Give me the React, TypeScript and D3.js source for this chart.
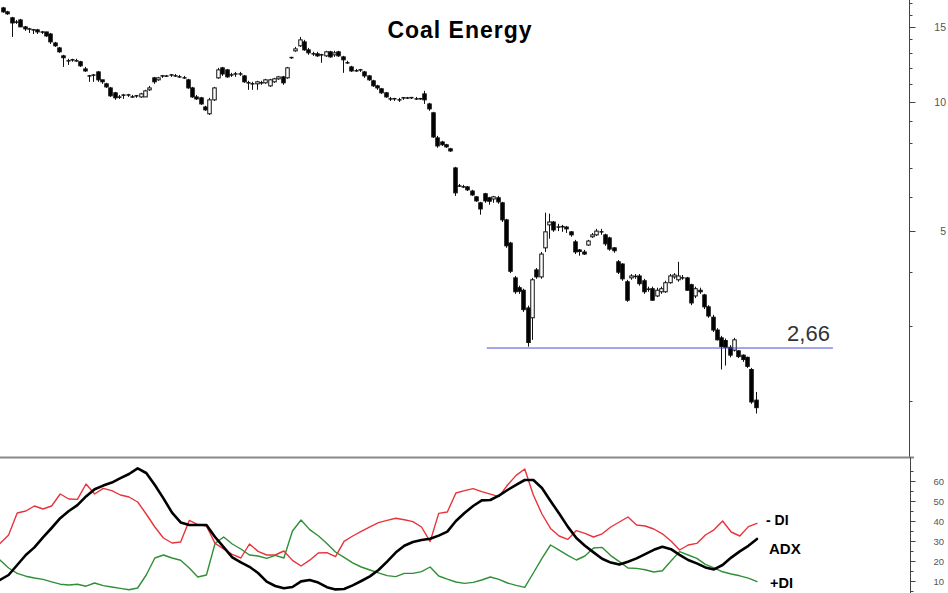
import React from "react";
import * as d3 from "d3";

// ---- price data ----
const opens = [
  16.58, 16.23, 15.72, 15.38, 15.54, 14.97, 14.81, 14.81, 14.73, 14.57,
  14.57, 14.41, 13.73, 13.37, 12.81, 12.54, 12.47, 12.54, 12.41, 11.94,
  11.56, 11.56, 11.75, 11.26, 11.02, 10.78, 10.5, 10.27, 10.38, 10.33,
  10.33, 10.27, 10.27, 10.27, 10.67, 11.38, 11.26, 11.44, 11.5, 11.5,
  11.56, 11.5, 11.44, 11.26, 10.78, 10.27, 10.22, 9.73, 9.38, 10.11,
  11.38, 12.01, 11.88, 11.62, 11.56, 11.69, 11.5, 11.14, 11.08, 11.02,
  11.02, 11.08, 10.9, 11.14, 11.32, 11.44, 11.38, 12.68, 13.16, 13.52,
  13.81, 13.23, 13.02, 12.95, 12.81, 12.81, 13.09, 12.88, 13.09, 12.74,
  12.41, 12.07, 11.88, 11.81, 11.75, 11.5, 11.2, 10.9, 10.73, 10.5,
  10.22, 10.16, 10.16, 10.16, 10.22, 10.22, 10.22, 10.16, 10.44, 9.89,
  9.43, 8.24, 8.06, 7.94, 7.77, 7.01, 6.4, 6.36, 6.33, 6.19,
  6.0, 5.81, 6.1, 5.97, 5.93, 5.97, 5.81, 5.3, 4.68, 3.88,
  3.68, 3.63, 3.3, 3.13, 4.05, 3.9, 4.56, 5.16, 5.24, 5.08,
  5.08, 5.1, 4.97, 4.71, 4.51, 4.46, 4.63, 4.84, 4.89, 4.94,
  4.89, 4.81, 4.56, 4.23, 4.18, 3.8, 3.88, 3.9, 3.92, 3.82,
  3.66, 3.66, 3.52, 3.6, 3.6, 3.78, 3.9, 3.84, 3.9, 3.88,
  3.74, 3.52, 3.63, 3.54, 3.32, 3.14, 2.93, 2.81, 2.77, 2.67,
  2.63, 2.62, 2.56, 2.53, 2.37, 2.01,
];
const highs = [
  16.67, 16.32, 15.8, 15.54, 15.63, 15.05, 14.89, 14.81, 14.81, 14.65,
  14.57, 14.49, 13.81, 13.44, 12.88, 12.61, 12.61, 12.61, 12.47, 12.07,
  11.56, 11.62, 11.81, 11.26, 11.08, 10.84, 10.55, 10.38, 10.44, 10.44,
  10.38, 10.38, 10.5, 10.67, 10.9, 11.44, 11.44, 11.56, 11.56, 11.62,
  11.62, 11.56, 11.5, 11.32, 10.84, 10.38, 10.27, 9.79, 10.22, 10.84,
  12.01, 12.07, 11.94, 11.69, 11.75, 11.75, 11.56, 11.2, 11.14, 11.2,
  11.2, 11.32, 11.32, 11.38, 11.5, 11.5, 12.07, 12.74, 13.44, 14.18,
  13.96, 13.37, 13.09, 13.09, 12.95, 13.16, 13.16, 13.16, 13.16, 12.81,
  12.47, 12.14, 11.94, 11.94, 11.81, 11.56, 11.26, 10.96, 10.78, 10.55,
  10.27, 10.22, 10.22, 10.27, 10.27, 10.27, 10.27, 10.22, 10.61, 9.95,
  9.48, 8.33, 8.11, 7.98, 7.81, 7.05, 6.43, 6.4, 6.36, 6.23,
  6.03, 5.84, 6.13, 6.0, 6.03, 6.03, 5.84, 5.33, 4.71, 3.92,
  3.72, 3.66, 3.34, 3.88, 4.09, 4.46, 5.51, 5.48, 5.27, 5.19,
  5.16, 5.13, 4.99, 4.76, 4.53, 4.51, 4.76, 4.94, 5.05, 5.05,
  4.92, 4.84, 4.58, 4.27, 4.2, 3.84, 3.96, 3.96, 3.96, 3.86,
  3.7, 3.7, 3.68, 3.7, 3.82, 3.96, 3.98, 4.23, 3.94, 3.9,
  3.76, 3.7, 3.68, 3.56, 3.35, 3.18, 2.96, 2.84, 2.8, 2.7,
  2.81, 2.63, 2.57, 2.54, 2.39, 2.1,
];
const lows = [
  16.15, 15.97, 14.18, 15.21, 14.97, 14.65, 14.49, 14.41, 14.41, 14.41,
  14.18, 13.66, 13.44, 13.02, 12.07, 12.2, 12.41, 12.41, 12.07, 11.75,
  11.14, 11.14, 11.14, 11.02, 10.78, 10.27, 10.11, 10.16, 10.16, 10.27,
  10.22, 10.22, 10.22, 10.27, 10.61, 11.02, 11.2, 11.38, 11.44, 11.44,
  11.44, 11.38, 11.32, 10.73, 10.22, 10.11, 9.84, 9.53, 9.32, 10.05,
  11.32, 11.5, 11.38, 11.44, 11.44, 11.5, 11.08, 10.67, 10.67, 10.67,
  10.96, 11.02, 10.84, 11.08, 11.26, 10.96, 11.32, 12.61, 13.09, 13.44,
  13.16, 12.88, 12.81, 12.74, 12.34, 12.74, 12.68, 12.74, 12.74, 11.69,
  12.27, 11.75, 11.75, 11.75, 11.38, 11.2, 10.84, 10.67, 10.44, 10.22,
  10.05, 10.05, 10.0, 10.11, 10.16, 10.16, 10.11, 10.11, 9.89, 9.53,
  8.24, 7.81, 7.89, 7.81, 7.64, 6.03, 6.33, 6.29, 6.19, 6.03,
  5.84, 5.45, 5.81, 5.75, 5.81, 5.78, 5.24, 4.56, 3.98, 3.56,
  3.56, 3.23, 2.68, 2.78, 3.86, 3.86, 4.46, 4.79, 4.97, 4.99,
  4.97, 4.94, 4.84, 4.41, 4.37, 4.39, 4.61, 4.81, 4.86, 4.89,
  4.61, 4.49, 4.44, 3.96, 3.82, 3.41, 3.84, 3.86, 3.72, 3.56,
  3.6, 3.43, 3.5, 3.56, 3.58, 3.76, 3.86, 3.8, 3.84, 3.62,
  3.35, 3.48, 3.56, 3.28, 3.13, 2.9, 2.77, 2.37, 2.42, 2.53,
  2.61, 2.52, 2.47, 2.39, 1.97, 1.87,
];
const closes = [
  16.23, 16.06, 15.29, 15.36, 14.97, 14.81, 14.8, 14.73, 14.57, 14.56,
  14.26, 13.81, 13.52, 13.09, 12.68, 12.47, 12.54, 12.47, 12.14, 11.81,
  11.5, 11.55, 11.26, 11.14, 10.84, 10.33, 10.22, 10.26, 10.37, 10.38,
  10.27, 10.33, 10.44, 10.61, 10.78, 11.14, 11.38, 11.5, 11.49, 11.56,
  11.5, 11.44, 11.38, 10.78, 10.27, 10.16, 9.89, 9.58, 10.11, 10.78,
  11.88, 11.62, 11.44, 11.56, 11.62, 11.62, 11.14, 11.08, 11.02, 11.14,
  11.08, 11.26, 11.26, 11.32, 11.44, 11.08, 12.01, 12.69, 13.3, 13.96,
  13.23, 13.02, 12.95, 12.81, 12.88, 13.09, 12.74, 13.02, 12.81, 12.54,
  12.34, 11.81, 11.82, 11.88, 11.5, 11.26, 10.9, 10.78, 10.5, 10.27,
  10.16, 10.17, 10.11, 10.22, 10.21, 10.23, 10.16, 10.17, 10.11, 9.63,
  8.28, 7.89, 7.94, 7.85, 7.68, 6.13, 6.36, 6.33, 6.23, 6.06,
  5.87, 5.62, 5.87, 5.86, 6.0, 5.84, 5.3, 4.61, 4.02, 3.6,
  3.61, 3.27, 2.74, 3.84, 3.9, 4.41, 4.97, 5.24, 5.02, 5.1,
  5.11, 5.05, 4.89, 4.46, 4.47, 4.41, 4.73, 4.89, 4.99, 4.97,
  4.66, 4.53, 4.49, 4.0, 3.86, 3.44, 3.92, 3.91, 3.76, 3.6,
  3.65, 3.44, 3.63, 3.66, 3.78, 3.92, 3.94, 3.92, 3.88, 3.63,
  3.39, 3.66, 3.6, 3.32, 3.16, 2.93, 2.78, 2.68, 2.67, 2.56,
  2.78, 2.54, 2.5, 2.41, 1.99, 1.93,
];

// ---- DMI indicator (sampled every second bar) ----
const minusDI = [
  28.8, 33, 44, 45, 47.5, 46, 47.5, 53.5, 51, 50.8, 58.5, 53.5, 56.3, 55.2, 53, 52, 49.5, 43.5, 37, 31.5,
  29, 29.5, 40.3, 38.2, 37.5, 28.8, 26, 23.3, 21.5, 28.5, 24.8, 23, 23, 25, 20.3, 17.5, 20.4, 24, 24.2, 22.2,
  29.8, 32.5, 34.8, 37.1, 39.2, 40.3, 41.4, 40.6, 39.7, 37, 29.7, 43.8, 44.5, 54, 55.2, 56.2, 54.7, 53.4, 52.2, 58,
  62.8, 66, 53, 43.5, 36.3, 32.5, 30.8, 35.2, 33.8, 32, 33.6, 37, 39.5, 42, 38, 37.5, 36, 33.6, 30, 25.5,
  28, 28.8, 33, 35.6, 40, 34.5, 32.5, 37.2, 38.8,
];
const adx = [
  10.5, 13, 18, 23, 26.8, 31.8, 36.5, 41.4, 45, 47.9, 52.3, 55.9, 57.7, 59.2, 61.4, 63.5, 66.3, 64, 58, 51.3,
  44.2, 39.3, 38, 38, 38, 32, 26.9, 21.8, 19.3, 17.1, 14, 9.7, 7.5, 6.4, 7, 9.8, 10.5, 9.2, 6.9, 5.8,
  6, 7.8, 10, 12.3, 15.5, 19.7, 24.2, 27.6, 29.5, 30.5, 31.1, 32.7, 34.7, 40, 44, 47.5, 50.3, 50.5, 52.7, 55.5,
  58.1, 60.5, 60.5, 56.5, 50, 43.7, 37.2, 31.5, 27.6, 24.3, 21.1, 19.2, 18.2, 19.6, 21.3, 23.4, 25.6, 27.1, 25.9, 23.1,
  20.5, 18.8, 16.8, 15.8, 18, 21.7, 24.8, 27.6, 31,
];
const plusDI = [
  20.5, 16.5, 13.8, 12.4, 11.5, 10.8, 9.6, 8.4, 8, 8.4, 7.4, 9, 7.7, 7, 6.3, 5.6, 6.5, 13, 21.5, 23,
  21.5, 20.4, 16.5, 12, 13, 28.8, 32, 28.5, 26, 23, 22.5, 21.3, 22.8, 21.5, 35, 40.5, 35.7, 32.6, 28.8, 24.5,
  21.8, 19.1, 17, 15.5, 14.1, 12.7, 12.2, 13.8, 13.8, 14.7, 17, 12.5, 10.9, 9.5, 8.8, 9.3, 10.5, 12, 10.8, 9,
  7.8, 6.8, 14, 21.3, 28, 25.4, 22.8, 20.5, 22.5, 26.5, 26.8, 22.7, 19.7, 16.5, 16.3, 15.6, 14.5, 15.1, 20, 24.7,
  23, 21.3, 18.3, 16.6, 14.6, 13.5, 12.6, 11.4, 9.7,
];

const priceMajorTicks = [5, 10, 15];
const priceMinorTicks = [2, 3, 4, 6, 7, 8, 9, 11, 12, 13, 14, 16, 17];
const dmiMajorTicks = [10, 20, 30, 40, 50, 60];
const dmiMinorTicks = [5, 15, 25, 35, 45, 55, 65];
const supportLevel = 2.66;
const supportLabel = "2,66";
const supportFromBar = 112.5;
const supportToBar = 193;
const title = "Coal Energy";
const seriesLabels = ["- DI", "ADX", "+DI"];

const FONT = "'Liberation Sans', Arial, Helvetica, sans-serif";

export default function App() {
  const W = 948;
  const H = 593;
  const y = d3.scaleLog().domain([1.48, 17.3]).range([457, 0]);
  const x = d3.scaleLinear().domain([0, closes.length - 1]).range([3, 755.5]);
  const yi = d3.scaleLinear().domain([10, 60]).range([581, 481]);
  const xl = d3.scaleLinear().domain([0, adx.length - 1]).range([0, 757]);
  const mkLine = (arr: number[]) =>
    d3.line<number>().x((_, i) => xl(i)).y((v) => yi(v)).curve(d3.curveLinear)(arr) || "";

  const axisX = 909.5;
  const axisX2 = 910.5;

  return (
    <svg
      width={W}
      height={H}
      viewBox={`0 0 ${W} ${H}`}
      style={{ position: "absolute", left: 0, top: 0, background: "#fff" }}
    >
      <rect x={0} y={0} width={W} height={H} fill="#fff" />
      <defs>
        <clipPath id="lowerClip">
          <rect x={0} y={459} width={905} height={H - 459} />
        </clipPath>
      </defs>

      {/* candles */}
      <g>
        {closes.map((c, i) => {
          const o = opens[i];
          const cx = Math.round(x(i)) + 0.5;
          const yo = y(o);
          const yc = y(c);
          const top = Math.min(yo, yc);
          const bot = Math.max(yo, yc);
          const up = c >= o;
          return (
            <g key={i}>
              <line x1={cx} x2={cx} y1={y(highs[i])} y2={y(lows[i])} stroke="#111" strokeWidth={1} />
              {bot - top < 1.5 ? (
                <line x1={cx - 2} x2={cx + 2} y1={yc} y2={yc} stroke="#111" strokeWidth={1.5} />
              ) : (
                <rect
                  x={cx - 1.75}
                  y={top}
                  width={3.5}
                  height={bot - top}
                  fill={up ? "#fff" : "#000"}
                  stroke="#111"
                  strokeWidth={1}
                />
              )}
            </g>
          );
        })}
      </g>

      {/* support line */}
      <line
        x1={x(supportFromBar)}
        x2={x(supportToBar)}
        y1={y(supportLevel)}
        y2={y(supportLevel)}
        stroke="#4b4bd8"
        strokeWidth={1}
      />
      <text
        x={x(supportToBar) - 3}
        y={y(supportLevel) - 7}
        textAnchor="end"
        fontFamily={FONT}
        fontSize={22}
        fill="#333"
      >
        {supportLabel}
      </text>

      {/* title */}
      <text
        x={460}
        y={38}
        textAnchor="middle"
        fontFamily={FONT}
        fontSize={23}
        fontWeight="bold"
        letterSpacing={1}
        fill="#000"
      >
        {title}
      </text>

      {/* price axis */}
      <line x1={axisX} x2={axisX} y1={0} y2={458} stroke="#444" strokeWidth={1} />
      {priceMinorTicks.map((t) => (
        <line key={"mi" + t} x1={axisX} x2={axisX + 3} y1={Math.round(y(t)) + 0.5} y2={Math.round(y(t)) + 0.5} stroke="#444" />
      ))}
      {priceMajorTicks.map((t) => (
        <g key={"ma" + t}>
          <line x1={axisX} x2={axisX + 6} y1={Math.round(y(t)) + 0.5} y2={Math.round(y(t)) + 0.5} stroke="#444" />
          <text x={946} y={y(t) + 4} textAnchor="end" fontFamily={FONT} fontSize={10.5} fill="#555">
            {t}
          </text>
        </g>
      ))}

      {/* separator */}
      <line x1={0} x2={914} y1={457.5} y2={457.5} stroke="#888" strokeWidth={2} />

      {/* indicator axis */}
      <line x1={axisX2} x2={axisX2} y1={457} y2={H} stroke="#444" strokeWidth={1} />
      {dmiMinorTicks.map((t) => (
        <line key={"dmi" + t} x1={axisX2} x2={axisX2 + 3} y1={Math.round(yi(t)) + 0.5} y2={Math.round(yi(t)) + 0.5} stroke="#444" />
      ))}
      {dmiMajorTicks.map((t) => (
        <g key={"dma" + t}>
          <line x1={axisX2} x2={axisX2 + 5} y1={Math.round(yi(t)) + 0.5} y2={Math.round(yi(t)) + 0.5} stroke="#444" />
          <text x={944} y={yi(t) + 3.5} textAnchor="end" fontFamily={FONT} fontSize={9.5} fill="#555">
            {t}
          </text>
        </g>
      ))}

      {/* indicator lines */}
      <g clipPath="url(#lowerClip)" fill="none" strokeLinejoin="round" strokeLinecap="round">
        <path d={mkLine(plusDI)} stroke="#2f8f35" strokeWidth={1.4} />
        <path d={mkLine(minusDI)} stroke="#e8333b" strokeWidth={1.4} />
        <path d={mkLine(adx)} stroke="#000" strokeWidth={2.6} />
      </g>

      {/* series labels */}
      <text x={766} y={525} fontFamily={FONT} fontSize={14} fontWeight="bold" fill="#000">
        {seriesLabels[0]}
      </text>
      <text x={769} y={554} fontFamily={FONT} fontSize={15} fontWeight="bold" fill="#000">
        {seriesLabels[1]}
      </text>
      <text x={770} y={588} fontFamily={FONT} fontSize={14.5} fontWeight="bold" fill="#000">
        {seriesLabels[2]}
      </text>
    </svg>
  );
}
